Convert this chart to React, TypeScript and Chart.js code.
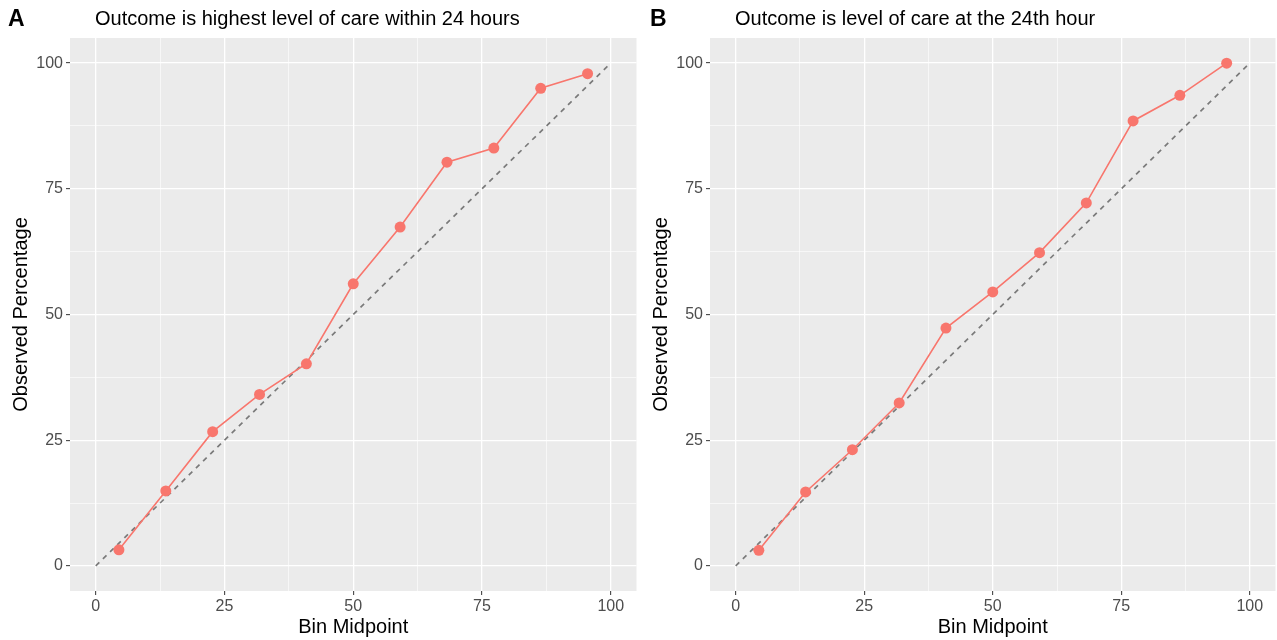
import React, { useEffect, useRef } from "react";
import { Chart, registerables } from "chart.js";
Chart.register(...registerables);

const binMidpoints = [4.5, 13.6, 22.7, 31.8, 40.9, 50, 59.1, 68.2, 77.3, 86.4, 95.5];
const observedA = [3.2, 14.9, 26.7, 34.1, 40.2, 56.1, 67.4, 80.3, 83.1, 95.0, 97.9];
const observedB = [3.1, 14.7, 23.1, 32.4, 47.3, 54.5, 62.3, 72.2, 88.5, 93.6, 100];
const gridTicks = [0, 12.5, 25, 37.5, 50, 62.5, 75, 87.5, 100];
const labelTicks = [0, 25, 50, 75, 100];
const diagonal = [0, 100];

const FONT = "'Liberation Sans', Arial, Helvetica, sans-serif";
const RED = "#F8766D";

const bgPlugin = {
  id: "panelBg",
  beforeDraw(chart: any) {
    const { ctx, chartArea } = chart;
    ctx.save();
    ctx.fillStyle = "#EBEBEB";
    ctx.fillRect(chartArea.left, chartArea.top, chartArea.right - chartArea.left, chartArea.bottom - chartArea.top);
    ctx.restore();
  },
};

function axisOpts(axis: "x" | "y", title: string) {
  const isMajor = (v: number) => labelTicks.includes(v);
  return {
    type: "linear",
    min: -5,
    max: 105,
    afterBuildTicks(scale: any) {
      scale.ticks = gridTicks.map((v) => ({ value: v }));
    },
    afterFit(scale: any) {
      if (axis === "y") {
        scale.width = 70;
        scale.paddingTop = 0;
        scale.paddingBottom = 0;
      } else {
        scale.height = 49;
        scale.paddingLeft = 0;
        scale.paddingRight = 0;
      }
    },
    border: { display: false },
    grid: {
      color: "#FFFFFF",
      lineWidth: (c: any) => (c.tick && isMajor(c.tick.value) ? 1.3 : 0.6),
      tickColor: (c: any) => (c.tick && isMajor(c.tick.value) ? "#333333" : "rgba(0,0,0,0)"),
      tickLength: 4,
      tickWidth: 1,
    },
    ticks: {
      autoSkip: false,
      maxRotation: 0,
      padding: axis === "y" ? 3 : 2,
      color: "#4D4D4D",
      font: { family: FONT, size: 16 },
      callback: (v: any) => (isMajor(Number(v)) ? String(v) : ""),
    },
    title: {
      display: true,
      text: title,
      color: "#000000",
      font: { family: FONT, size: 20 },
      padding: axis === "y" ? { top: 9, bottom: 0 } : { top: 0, bottom: 1 },
    },
  };
}

function Panel({ values, rightPad, left, width }: { values: number[]; rightPad: number; left: number; width: number }) {
  const ref = useRef<HTMLCanvasElement>(null);
  useEffect(() => {
    if (!ref.current) return;
    const chart = new Chart(ref.current, {
      type: "scatter",
      data: {
        datasets: [
          {
            data: binMidpoints.map((x, i) => ({ x, y: values[i] })),
            showLine: true,
            borderColor: RED,
            backgroundColor: RED,
            borderWidth: 1.6,
            pointRadius: 5.5,
            pointBorderWidth: 0,
            pointBackgroundColor: RED,
          },
          {
            data: diagonal.map((v) => ({ x: v, y: v })),
            showLine: true,
            borderColor: "#7A7A7A",
            borderWidth: 1.7,
            borderDash: [5, 5],
            pointRadius: 0,
          },
        ],
      } as any,
      options: {
        animation: false,
        responsive: false,
        maintainAspectRatio: false,
        devicePixelRatio: 1,
        layout: { padding: { top: 38, left: 0, right: rightPad, bottom: 0 } },
        plugins: { legend: { display: false }, tooltip: { enabled: false }, title: { display: false } },
        scales: {
          x: axisOpts("x", "Bin Midpoint") as any,
          y: axisOpts("y", "Observed Percentage") as any,
        },
      },
      plugins: [bgPlugin],
    });
    return () => chart.destroy();
  }, []);
  return (
    <canvas
      ref={ref}
      width={width}
      height={640}
      style={{ position: "absolute", left, top: 0, width, height: 640 }}
    />
  );
}

export default function App() {
  const label = { position: "absolute" as const, fontFamily: FONT, color: "#000", whiteSpace: "nowrap" as const, lineHeight: 1 };
  return (
    <div style={{ position: "absolute", left: 0, top: 0, width: 1277, height: 640, background: "#fff", overflow: "hidden" }}>
      <Panel values={observedA} rightPad={0} left={0} width={642} />
      <Panel values={observedB} rightPad={0} left={640} width={641} />
      <div style={{ ...label, left: 8, top: 7, fontSize: 23, fontWeight: 700 }}>A</div>
      <div style={{ ...label, left: 650, top: 7, fontSize: 23, fontWeight: 700 }}>B</div>
      <div style={{ ...label, left: 95, top: 8, fontSize: 20 }}>Outcome is highest level of care within 24 hours</div>
      <div style={{ ...label, left: 735, top: 8, fontSize: 20 }}>Outcome is level of care at the 24th hour</div>
    </div>
  );
}
